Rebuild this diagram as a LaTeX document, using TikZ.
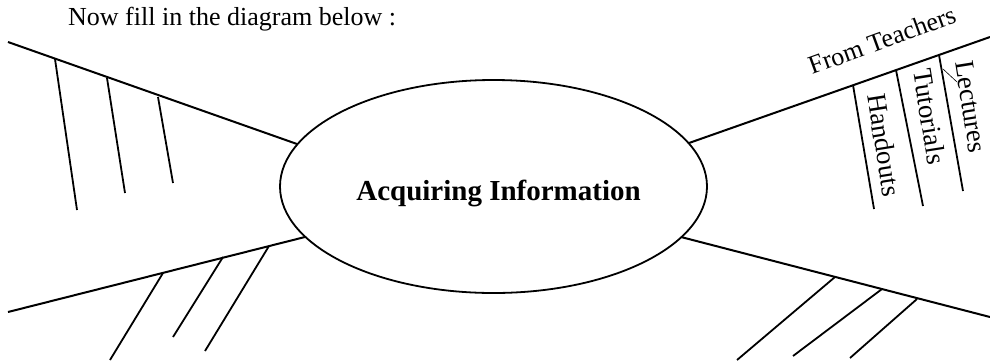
\documentclass[tikz,border=0pt]{standalone}
\usepackage{fontspec}
\setmainfont{Liberation Serif}
\usetikzlibrary{shapes.geometric}
\begin{document}
\begin{tikzpicture}[x=1pt,y=-1pt,
  mainline/.style={line width=2pt},
  branch/.style={line width=1.8pt},
  leader/.style={line width=0.6pt},
  lbl/.style={inner sep=0pt,font=\fontsize{26}{30}\selectfont},
  vlbl/.style={inner sep=0pt,font=\fontsize{27}{30}\selectfont,anchor=base west,rotate=-81},
  hub/.style={draw,ellipse,line width=1.8pt,minimum width=427pt,minimum height=213pt,inner sep=0pt}]
\useasboundingbox (0,0) rectangle (990,360);
% title
\node[lbl,anchor=base west] (title) at (68,25) {Now fill in the diagram below :};
% central ellipse
\node[hub] (hub) at (493.5,186.5) {};
\node[inner sep=0pt,anchor=base,font=\fontsize{29}{32}\selectfont\bfseries] (info) at (498.5,200) {Acquiring Information};
% upper left
\coordinate (ula) at (8,42);
\coordinate (ulb) at (297,144);
\draw[mainline] (ula) -- (ulb);
\coordinate (ul1s) at (55,59);   \coordinate (ul1e) at (77,210);
\coordinate (ul2s) at (107,78);  \coordinate (ul2e) at (125,193);
\coordinate (ul3s) at (158,97);  \coordinate (ul3e) at (173,183);
\draw[branch] (ul1s) -- (ul1e);
\draw[branch] (ul2s) -- (ul2e);
\draw[branch] (ul3s) -- (ul3e);
% lower left
\coordinate (lla) at (8,312);
\coordinate (llb) at (305,237);
\draw[mainline] (lla) -- (llb);
\coordinate (ll1s) at (163,273); \coordinate (ll1e) at (110,360);
\coordinate (ll2s) at (223,257); \coordinate (ll2e) at (173,337);
\coordinate (ll3s) at (269,246); \coordinate (ll3e) at (205,351);
\draw[branch] (ll1s) -- (ll1e);
\draw[branch] (ll2s) -- (ll2e);
\draw[branch] (ll3s) -- (ll3e);
% lower right
\coordinate (lra) at (681,237);
\coordinate (lrb) at (990,317);
\draw[mainline] (lra) -- (lrb);
\coordinate (lr1s) at (835,277); \coordinate (lr1e) at (737,360);
\coordinate (lr2s) at (882,289); \coordinate (lr2e) at (793,356);
\coordinate (lr3s) at (917,299); \coordinate (lr3e) at (850,358);
\draw[branch] (lr1s) -- (lr1e);
\draw[branch] (lr2s) -- (lr2e);
\draw[branch] (lr3s) -- (lr3e);
% upper right
\coordinate (ura) at (689,143);
\coordinate (urb) at (990,37);
\draw[mainline] (ura) -- (urb);
\coordinate (ur1s) at (853,85);  \coordinate (ur1e) at (874,209);
\coordinate (ur2s) at (896,70);  \coordinate (ur2e) at (923,206);
\coordinate (ur3s) at (939,55);  \coordinate (ur3e) at (963,191);
\draw[branch] (ur1s) -- (ur1e);
\draw[branch] (ur2s) -- (ur2e);
\draw[branch] (ur3s) -- (ur3e);
% labels
\node[lbl,anchor=base west,rotate=20] (from) at (812,75) {From Teachers};
\node[vlbl] (handouts) at (867,95) {Handouts};
\node[vlbl] (tutorials) at (913,70) {Tutorials};
\node[vlbl] (lectures) at (955,62) {Lectures};
\coordinate (leadA) at (943,69);
\coordinate (leadB) at (957,82);
\draw[leader] (leadA) -- (leadB);
\end{tikzpicture}
\end{document}
